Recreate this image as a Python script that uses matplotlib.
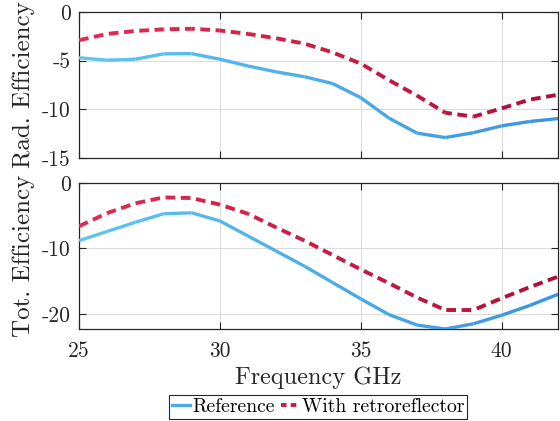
import matplotlib
matplotlib.use("Agg")
import matplotlib.pyplot as plt
import numpy as np
from matplotlib.collections import LineCollection
from matplotlib.colors import LinearSegmentedColormap
from matplotlib.lines import Line2D

plt.rcParams['font.family'] = 'serif'
plt.rcParams['font.serif'] = ['cmr10', 'DejaVu Serif']
plt.rcParams['axes.unicode_minus'] = False
plt.rcParams['lines.scale_dashes'] = False

freq = [25, 26, 27, 28, 29, 30, 31, 32, 33, 34, 35, 36, 37, 38, 39, 40, 41, 42]

rad_ref = [-4.7, -4.95, -4.85, -4.3, -4.28, -4.85, -5.55, -6.15, -6.65, -7.35,
           -8.8, -10.9, -12.45, -12.9, -12.4, -11.7, -11.25, -10.95]
rad_retro = [-2.9, -2.25, -1.95, -1.78, -1.72, -1.9, -2.25, -2.7, -3.25, -4.15,
             -5.3, -7.0, -8.6, -10.35, -10.75, -9.9, -9.0, -8.5]

tot_ref = [-8.8, -7.4, -6.0, -4.7, -4.55, -5.8, -8.1, -10.4, -12.7, -15.2,
           -17.7, -20.1, -21.7, -22.3, -21.5, -20.2, -18.7, -17.0]
tot_retro = [-6.6, -4.6, -3.1, -2.2, -2.3, -3.3, -4.7, -6.8, -8.8, -11.0,
             -13.2, -15.3, -17.5, -19.4, -19.4, -17.6, -15.9, -14.3]

labels = ['Reference', 'With retroreflector']

blue_map = LinearSegmentedColormap.from_list('b', ['#60c6ec', '#3a94e0'])
red_map = LinearSegmentedColormap.from_list('r', ['#e22c52', '#b00e38'])

W, H = 560, 421
fig = plt.figure(figsize=(W / 100, H / 100), dpi=100)
ax1 = fig.add_axes([79 / W, 1 - 158 / H, 479 / W, 146 / H])
ax2 = fig.add_axes([79 / W, 1 - 329 / H, 479 / W, 146 / H])


def gradient_line(ax, x, y, cmap, lw, dashed=False):
    '''draw the curve as segments coloured along x, dashes kept continuous'''
    x = np.asarray(x, float)
    y = np.asarray(y, float)
    pts = np.column_stack([x, y])
    segs = np.stack([pts[:-1], pts[1:]], axis=1)
    t = (0.5 * (x[:-1] + x[1:]) - x[0]) / (x[-1] - x[0])
    colors = cmap(t)
    if dashed:
        disp = ax.transData.transform(pts)
        seglen = np.hypot(*np.diff(disp, axis=0).T) * 72 / fig.dpi
        start = np.concatenate([[0], np.cumsum(seglen)[:-1]])
        styles = [(s, (7, 4)) for s in start]
    else:
        styles = ['solid'] * len(segs)
    lc = LineCollection(segs, colors=colors, linewidths=lw, linestyles=styles,
                        capstyle='butt', joinstyle='round', zorder=3)
    ax.add_collection(lc)


for ax, ylim, yticks, ylab in [(ax1, (-15, 0), [-15, -10, -5, 0], 'Rad. Efficiency'),
                               (ax2, (-22.3, 0), [-20, -10, 0], 'Tot. Efficiency')]:
    ax.set_xlim(25, 42)
    ax.set_ylim(*ylim)
    ax.set_yticks(yticks)
    ax.set_xticks([25, 30, 35, 40])
    ax.grid(True, color='#dcdcdc', lw=0.8)
    ax.set_axisbelow(True)
    ax.tick_params(direction='in', top=True, right=True, labelsize=15.5,
                   colors='#262626', length=5, width=0.8, pad=6)
    ax.tick_params(axis='x', pad=9)
    for s in ax.spines.values():
        s.set_color('#262626')
        s.set_linewidth(0.9)
    ax.set_ylabel(ylab, fontsize=18, color='#262626')
    ax.yaxis.set_label_coords(-0.092, 0.5)

ax1.tick_params(labelbottom=False)

gradient_line(ax1, freq, rad_ref, blue_map, 2.4)
gradient_line(ax1, freq, rad_retro, red_map, 2.8, dashed=True)
gradient_line(ax2, freq, tot_ref, blue_map, 2.4)
gradient_line(ax2, freq, tot_retro, red_map, 2.8, dashed=True)

ax2.set_xlabel('Frequency GHz', fontsize=17.5, color='#262626', labelpad=4)

handles = [Line2D([], [], color='#4caee6', lw=2.4),
           Line2D([], [], color='#c81c45', lw=2.8, ls=(0, (4, 3)))]
leg = fig.legend(handles, labels, loc='upper center', bbox_to_anchor=(318 / W, 1 - 395 / H),
                 ncol=2, fontsize=14.2, frameon=True, fancybox=False, framealpha=1,
                 edgecolor='#262626', handlelength=0.9, handletextpad=0.15,
                 columnspacing=0.3, borderpad=0.15, borderaxespad=0)
leg.get_frame().set_linewidth(0.8)

fig.savefig('out.png', dpi=100)
